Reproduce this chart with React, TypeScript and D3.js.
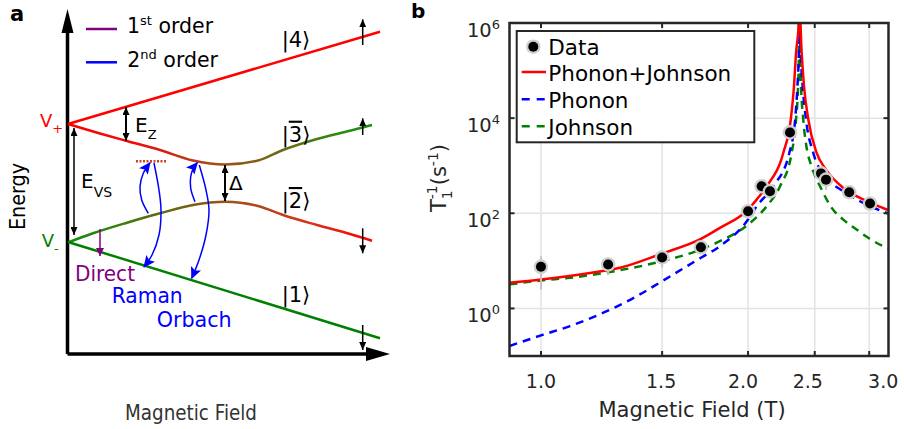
import React from "react";
import * as d3 from "d3";

// ---------------- Panel b data ----------------
const fieldTicks = [1.0, 1.5, 2.0, 2.5, 3.0];
const fieldTickLabels = ["1.0", "1.5", "2.0", "2.5", "3.0"];
const rateTickExponents = [0, 2, 4, 6];

const dataField = [1.0, 1.252, 1.5, 1.708, 2.0, 2.093, 2.152, 2.301, 2.553, 2.596, 2.806, 3.008];
const dataRate = [7.5, 8.4, 11.8, 19.3, 110, 369, 290, 5010, 690, 510, 276, 160];
const dataErr = [5, 3.4, 4.5, 3, 15, 40, 40, 1500, 100, 200, 30, 20];

const totalField = [0.9, 1.0, 1.165, 1.303, 1.5, 1.708, 1.82, 2.0, 2.058, 2.128, 2.25, 2.307, 2.332, 2.348, 2.37, 2.373, 2.393, 2.412, 2.447, 2.516, 2.596, 2.751, 2.909, 3.075, 3.2];
const totalRate = [3.46, 4.06, 5.43, 7.15, 14.3, 29, 49.4, 120, 194, 369, 1853, 9250, 46200, 232000, 1.0e6, 3e6, 232000, 46200, 9250, 1853, 826, 341, 210, 147, 116];

const phononField = [0.9, 1.0, 1.102, 1.232, 1.378, 1.5, 1.708, 1.82, 2.0, 2.058, 2.176, 2.296, 2.341, 2.359, 2.37, 2.373, 2.385, 2.401, 2.428, 2.488, 2.602, 2.751, 2.909, 3.2];
const phononRate = [0.162, 0.271, 0.425, 0.812, 1.81, 3.74, 11.6, 20.3, 73.8, 140, 369, 1853, 9250, 46200, 232000, 3e6, 232000, 46200, 9250, 1853, 553, 290, 179, 98.6];

const johnsonField = [0.9, 1.0, 1.102, 1.303, 1.5, 1.708, 1.82, 2.0, 2.128, 2.226, 2.314, 2.348, 2.364, 2.371, 2.373, 2.38, 2.388, 2.406, 2.441, 2.46, 2.559, 2.646, 2.751, 2.876, 2.99, 3.145, 3.2];
const johnsonRate = [3.19, 3.87, 4.41, 6.37, 9.84, 17.3, 25.9, 57.9, 140, 369, 1853, 9250, 46200, 232000, 3e6, 232000, 46200, 9250, 1853, 1234, 314, 130, 73.8, 45.5, 30.5, 20.3, 18.2];

const legendLabels = ["Data", "Phonon+Johnson", "Phonon", "Johnson"];

// ---------------- Panel a schematic (field, energy in schematic units) ----------------
const level4: [number, number][] = [[0, 230], [312, 322.3]];
const level1: [number, number][] = [[0, 112], [312, 15.7]];
const level3: [number, number][] = [[0, 230], [32, 220.5], [59, 213], [92, 204], [125, 193.5], [157, 189.5], [190, 193.5], [215, 204], [249, 215], [282, 223.3], [304, 229]];
const level2: [number, number][] = [[0, 111.5], [25, 120.7], [59, 131.3], [92, 140.7], [125, 149], [157, 152.3], [190, 148], [215, 139], [249, 129], [282, 120], [304, 113.3]];
const ramanUp: [number, number][] = [[80.3, 140.7], [73.7, 154], [72, 167.3], [75.3, 180.7], [82, 191.3]];
const ramanDown: [number, number][] = [[86, 191], [91, 164], [93, 144], [91, 119], [84, 99], [76, 87]];
const orbachUp: [number, number][] = [[127, 152.3], [122.7, 165.7], [122.7, 177.3], [125.3, 185.7], [129.3, 191.3]];
const orbachDown: [number, number][] = [[131.3, 189], [138, 164], [141, 144], [138, 119], [131, 94], [123.7, 75.7]];
const virtualLevel: [number, number][] = [[68, 192.7], [98, 192.7]];
const directArrow: [number, number][] = [[32, 125], [32, 98]];
const ezArrow: [number, number][] = [[58, 247], [58, 213]];
const evsArrow: [number, number][] = [[6, 226], [6, 119]];
const deltaArrow: [number, number][] = [[157, 189], [157, 153]];
const spinArrows: [number, number, number][] = [[294.7, 309, 334.7], [294.7, 219, 235.7], [294.7, 125.7, 100.7], [294.7, 29, 4]];

const FONT = "DejaVu Sans";
const AX = "#262626";

export default function App() {
  // panel b scales
  const xb = d3.scaleLog().domain([0.9, 3.2]).range([509.5, 888.5]);
  const yb = d3.scaleLog().domain([0.1, 1e6]).range([356, 23]);
  const lineB = d3
    .line<[number, number]>()
    .x((d) => xb(d[0]))
    .y((d) => yb(d[1]))
    .curve(d3.curveMonotoneX);
  const zip = (a: number[], b: number[]) => a.map((v, i) => [v, b[i]] as [number, number]);

  // panel a scales
  const xa = d3.scaleLinear().domain([0, 322]).range([68, 390]);
  const ya = d3.scaleLinear().domain([0, 345]).range([354, 9]);
  const lineA = d3
    .line<[number, number]>()
    .x((d) => xa(d[0]))
    .y((d) => ya(d[1]))
    .curve(d3.curveMonotoneX);
  const curveA = d3
    .line<[number, number]>()
    .x((d) => xa(d[0]))
    .y((d) => ya(d[1]))
    .curve(d3.curveCatmullRom);
  const straight = d3
    .line<[number, number]>()
    .x((d) => xa(d[0]))
    .y((d) => ya(d[1]));

  const [bx0, bx1] = xb.range();
  const [by0, by1] = [yb.range()[1], yb.range()[0]];
  const labelNudge = [0, -1, -5, -7, 14];

  const legendRows = [46.7, 72, 99.3, 126.3];

  return (
    <svg
      width={904}
      height={429}
      style={{ position: "absolute", left: 0, top: 0, display: "block", background: "#fff" }}
      fontFamily={FONT}
    >
      <defs>
        <clipPath id="plotClip">
          <rect x={bx0} y={by0} width={bx1 - bx0} height={by1 - by0} />
        </clipPath>
        <linearGradient id="g3" gradientUnits="userSpaceOnUse" x1={xa(0)} y1={0} x2={xa(304)} y2={0}>
          <stop offset="0" stopColor="#ff0000" />
          <stop offset="0.22" stopColor="#f00a0a" />
          <stop offset="0.5" stopColor="#a0501a" />
          <stop offset="0.7" stopColor="#6e6a10" />
          <stop offset="0.9" stopColor="#2a8a14" />
          <stop offset="1" stopColor="#1a8c1a" />
        </linearGradient>
        <linearGradient id="g2" gradientUnits="userSpaceOnUse" x1={xa(0)} y1={0} x2={xa(304)} y2={0}>
          <stop offset="0" stopColor="#138a13" />
          <stop offset="0.2" stopColor="#3f7a10" />
          <stop offset="0.4" stopColor="#7a6010" />
          <stop offset="0.55" stopColor="#a0501a" />
          <stop offset="0.8" stopColor="#d8301a" />
          <stop offset="1" stopColor="#ff0000" />
        </linearGradient>
        <marker id="headBlk" markerUnits="userSpaceOnUse" markerWidth={8} markerHeight={7} refX={8} refY={3.5} orient="auto-start-reverse">
          <path d="M0,0 L8,3.5 L0,7 Z" fill="#000" />
        </marker>
        <marker id="headBlue" markerUnits="userSpaceOnUse" markerWidth={12} markerHeight={11} refX={11} refY={5.5} orient="auto">
          <path d="M0,0 L12,5.5 L0,11 L2.5,5.5 Z" fill="#0000ff" />
        </marker>
        <marker id="headPurple" markerUnits="userSpaceOnUse" markerWidth={8} markerHeight={8} refX={8} refY={4} orient="auto">
          <path d="M0,0 L8,4 L0,8 Z" fill="#800080" />
        </marker>
      </defs>

      {/* ================= Panel a ================= */}
      <text x={10} y={21} fontSize={21} fontWeight="bold" fill="#000">a</text>

      {/* axes */}
      <line x1={xa(-0.5)} y1={ya(0)} x2={xa(-0.5)} y2={ya(321)} stroke="#000" strokeWidth={3.5} />
      <polygon points={`${xa(-0.5)},${ya(345)} ${xa(-6.5)},${ya(321)} ${xa(5.5)},${ya(321)}`} fill="#000" />
      <line x1={xa(-0.5)} y1={ya(0)} x2={xa(298)} y2={ya(0)} stroke="#000" strokeWidth={3.5} />
      <polygon points={`${xa(322)},${ya(0)} ${xa(298)},${ya(7)} ${xa(298)},${ya(-7)}`} fill="#000" />

      {/* legend a */}
      <line x1={86} x2={117} y1={29} y2={29} stroke="#800080" strokeWidth={2.5} />
      <text x={127} y={33.3} fontSize={20.5} fill="#000">
        1<tspan fontSize={13} dy={-8}>st</tspan><tspan dy={8}>{" order"}</tspan>
      </text>
      <line x1={86} x2={117} y1={62.3} y2={62.3} stroke="#0000ff" strokeWidth={2.5} />
      <text x={127.3} y={66.7} fontSize={20.5} fill="#000">
        2<tspan fontSize={13} dy={-8}>nd</tspan><tspan dy={8}>{" order"}</tspan>
      </text>

      {/* levels */}
      <path d={lineA(level4) || ""} fill="none" stroke="#ff0000" strokeWidth={2.5} />
      <path d={lineA(level3) || ""} fill="none" stroke="url(#g3)" strokeWidth={2.5} />
      <path d={lineA(level2) || ""} fill="none" stroke="url(#g2)" strokeWidth={2.5} />
      <path d={lineA(level1) || ""} fill="none" stroke="#008000" strokeWidth={2.5} />

      {/* virtual level */}
      <path d={straight(virtualLevel) || ""} stroke="#d0401a" strokeWidth={2.5} strokeDasharray="2,1.5" fill="none" />

      {/* double arrows */}
      <path d={straight(ezArrow) || ""} stroke="#000" strokeWidth={2} markerStart="url(#headBlk)" markerEnd="url(#headBlk)" />
      <path d={straight(evsArrow) || ""} stroke="#000" strokeWidth={1.5} markerStart="url(#headBlk)" markerEnd="url(#headBlk)" />
      <path d={straight(deltaArrow) || ""} stroke="#000" strokeWidth={2} markerStart="url(#headBlk)" markerEnd="url(#headBlk)" />

      {/* spin arrows */}
      {spinArrows.map(([f, e0, e1], i) => (
        <path key={i} d={straight([[f, e0], [f, e1]]) || ""} stroke="#000" strokeWidth={1.5} markerEnd="url(#headBlk)" />
      ))}

      {/* direct */}
      <path d={straight(directArrow) || ""} stroke="#800080" strokeWidth={1.5} markerEnd="url(#headPurple)" />

      {/* Raman / Orbach */}
      {[ramanUp, ramanDown, orbachUp, orbachDown].map((pts, i) => (
        <path key={i} d={curveA(pts) || ""} fill="none" stroke="#0000ff" strokeWidth={1.5} markerEnd="url(#headBlue)" />
      ))}

      {/* labels a */}
      <text x={40} y={126.7} fontSize={18} fill="#ff0000">
        V<tspan fontSize={13} dy={6}>+</tspan>
      </text>
      <text x={41.7} y={246.7} fontSize={18} fill="#008000">
        V<tspan fontSize={13} dy={6}>-</tspan>
      </text>
      <text x={135} y={132.3} fontSize={20} fill="#000">
        E<tspan fontSize={13} dy={7}>Z</tspan>
      </text>
      <text x={81} y={187.7} fontSize={20} fill="#000">
        E<tspan fontSize={14} dy={9}>VS</tspan>
      </text>
      <text x={229} y={190} fontSize={20} fill="#000">Δ</text>

      <text x={281.7} y={47} fontSize={21} fill="#000">|4⟩</text>
      <text x={281.7} y={141.7} fontSize={21} fill="#000">
        |<tspan style={{ textDecoration: "overline" }}>3</tspan>⟩
      </text>
      <text x={281.7} y={208} fontSize={21} fill="#000">
        |<tspan style={{ textDecoration: "overline" }}>2</tspan>⟩
      </text>
      <text x={281.7} y={301.7} fontSize={21} fill="#000">|1⟩</text>

      <text x={75} y={281} fontSize={22} fill="#800080" textLength={60} lengthAdjust="spacingAndGlyphs">Direct</text>
      <text x={111.7} y={303.3} fontSize={21} fill="#0000ff" textLength={71} lengthAdjust="spacingAndGlyphs">Raman</text>
      <text x={156.7} y={327.3} fontSize={21} fill="#0000ff" textLength={75} lengthAdjust="spacingAndGlyphs">Orbach</text>

      <text transform="translate(25,196.5) rotate(-90)" textAnchor="middle" fontSize={22} fill="#000" textLength={67} lengthAdjust="spacingAndGlyphs">Energy</text>
      <text x={191} y={420} textAnchor="middle" fontSize={22} fill="#333" textLength={132} lengthAdjust="spacingAndGlyphs">Magnetic Field</text>

      {/* ================= Panel b ================= */}
      <text x={411} y={18} fontSize={20} fontWeight="bold" fill="#000">b</text>

      {/* grid */}
      {fieldTicks.map((t) => (
        <line key={"gx" + t} x1={xb(t)} x2={xb(t)} y1={by0} y2={by1} stroke="#e3e3e3" strokeWidth={1.5} />
      ))}
      {rateTickExponents.map((e) => (
        <line key={"gy" + e} x1={bx0} x2={bx1} y1={yb(Math.pow(10, e))} y2={yb(Math.pow(10, e))} stroke="#e3e3e3" strokeWidth={1.5} />
      ))}

      {/* curves */}
      <g clipPath="url(#plotClip)">
        <path d={lineB(zip(johnsonField, johnsonRate)) || ""} fill="none" stroke="#008000" strokeWidth={2.5} strokeDasharray="8,6" />
        <path d={lineB(zip(phononField, phononRate)) || ""} fill="none" stroke="#0000ff" strokeWidth={2.5} strokeDasharray="8,6" />
        <path d={lineB(zip(totalField, totalRate)) || ""} fill="none" stroke="#ff0000" strokeWidth={2.5} />
      </g>

      {/* data */}
      {dataField.map((f, i) => (
        <g key={"d" + i}>
          <line x1={xb(f)} x2={xb(f)} y1={yb(dataRate[i] + dataErr[i])} y2={yb(Math.max(dataRate[i] - dataErr[i], 0.11))} stroke="#c4c4c4" strokeWidth={2} />
          <circle cx={xb(f)} cy={yb(dataRate[i])} r={7.3} fill="#cfcfcf" />
          <circle cx={xb(f)} cy={yb(dataRate[i])} r={5} fill="#000" />
        </g>
      ))}

      {/* frame & ticks */}
      <rect x={bx0} y={by0} width={bx1 - bx0} height={by1 - by0} fill="none" stroke={AX} strokeWidth={2.5} />
      {fieldTicks.map((t) => (
        <g key={"tx" + t}>
          <line x1={xb(t)} x2={xb(t)} y1={by1} y2={by1 - 5} stroke={AX} strokeWidth={2} />
          <line x1={xb(t)} x2={xb(t)} y1={by0} y2={by0 + 5} stroke={AX} strokeWidth={2} />
        </g>
      ))}
      {rateTickExponents.map((e) => (
        <g key={"ty" + e}>
          <line x1={bx0} x2={bx0 + 5} y1={yb(Math.pow(10, e))} y2={yb(Math.pow(10, e))} stroke={AX} strokeWidth={2} />
          <line x1={bx1} x2={bx1 - 5} y1={yb(Math.pow(10, e))} y2={yb(Math.pow(10, e))} stroke={AX} strokeWidth={2} />
        </g>
      ))}

      {/* tick labels */}
      {fieldTicks.map((t, i) => (
        <text key={"lx" + t} x={xb(t) + labelNudge[i]} y={388.3} textAnchor="middle" fontSize={19} fill={AX}>
          {fieldTickLabels[i]}
        </text>
      ))}
      {rateTickExponents.map((e) => (
        <text key={"ly" + e} x={500} y={yb(Math.pow(10, e)) + 13.7} textAnchor="end" fontSize={19.5} fill={AX}>
          10<tspan fontSize={13} dy={-8}>{e}</tspan>
        </text>
      ))}

      {/* axis labels */}
      <text x={692} y={416.7} textAnchor="middle" fontSize={21} fill={AX}>Magnetic Field (T)</text>
      <text transform="translate(446,178) rotate(-90)" textAnchor="middle" fontSize={21} fill={AX}>
        T<tspan fontSize={14} dy={6}>1</tspan>
        <tspan fontSize={14} dx={-9} dy={-15}>-1</tspan>
        <tspan fontSize={21} dy={9}>(s</tspan>
        <tspan fontSize={14} dy={-8}>-1</tspan>
        <tspan fontSize={21} dy={8}>)</tspan>
      </text>

      {/* legend b */}
      <rect x={516.7} y={31} width={237.6} height={111.3} fill="#fff" stroke={AX} strokeWidth={2} />
      <circle cx={533.3} cy={legendRows[0]} r={7.3} fill="#cfcfcf" />
      <circle cx={533.3} cy={legendRows[0]} r={5} fill="#000" />
      <line x1={521.7} x2={546} y1={legendRows[1]} y2={legendRows[1]} stroke="#ff0000" strokeWidth={2.5} />
      <line x1={521.7} x2={546} y1={legendRows[2]} y2={legendRows[2]} stroke="#0000ff" strokeWidth={2.5} strokeDasharray="8,7" />
      <line x1={521.7} x2={546} y1={legendRows[3]} y2={legendRows[3]} stroke="#008000" strokeWidth={2.5} strokeDasharray="8,7" />
      {legendLabels.map((l, i) => (
        <text key={l} x={548.3} y={legendRows[i] + 8.5} fontSize={21.5} fill="#000">{l}</text>
      ))}
    </svg>
  );
}
